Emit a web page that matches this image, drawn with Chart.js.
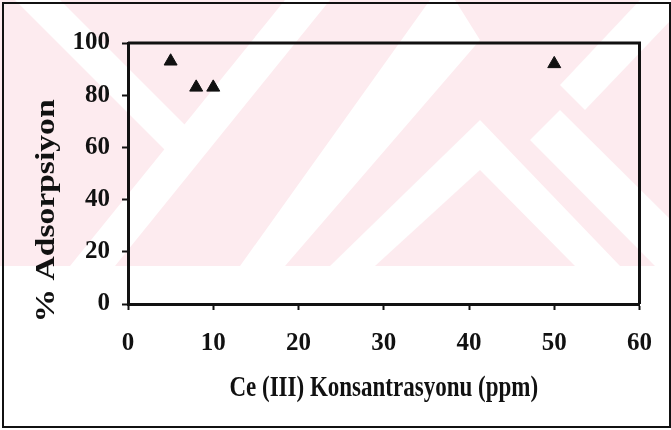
<!DOCTYPE html>
<html>
<head>
<meta charset="utf-8">
<script src="https://cdn.jsdelivr.net/npm/chart.js@4/dist/chart.umd.min.js"></script>
<style>
  html, body { margin: 0; padding: 0; background: #fff; }
  #wrap { position: relative; width: 671px; height: 430px; overflow: hidden; }
  #mark { position: absolute; left: 0; top: 0; }
  #frame { position: absolute; left: 2px; top: 2px; width: 665px; height: 422px; border: 2px solid #111; }
  #box { position: absolute; left: 0; top: 0; width: 671px; height: 430px; }
</style>
</head>
<body>
<div id="wrap">
  <!-- faint watermark behind the scanned chart -->
  <svg id="mark" width="671" height="266">
    <rect x="0" y="0" width="671" height="266" fill="#fdebef"/>
    <g fill="#fff">
      <polygon points="15,0 60,0 200,140 180,165"/>
      <polygon points="70,266 115,266 330,0 285,0"/>
      <polygon points="240,266 285,266 480,40 455,0 430,0"/>
      <polygon points="330,266 375,266 480,170 480,120"/>
      <polygon points="480,120 480,170 575,266 620,266"/>
      <polygon points="530,140 560,110 671,220 671,266 655,266"/>
      <polygon points="560,85 585,110 671,20 671,0 640,0"/>
    </g>
  </svg>
  <div id="frame"></div>
  <div id="box"><canvas id="adsChart"></canvas></div>
</div>
<script>
// values
const concentrations = [5, 8, 10, 50];       // Ce (III), ppm
const adsorption = [93, 83, 83, 92];          // % adsorpsiyon
const xTicks = [0, 10, 20, 30, 40, 50, 60];
const yTicks = [0, 20, 40, 60, 80, 100];

const xTitle = 'Ce (III) Konsantrasyonu (ppm)';
const yTitle = '% Adsorpsiyon';

const serif = "'Liberation Serif', 'Times New Roman', serif";

// top/right plot frame and axis titles (scan is a bit stretched vertically)
const framePlugin = {
    id: 'frame',
    afterDraw: function (chart) {
        var ctx = chart.ctx;
        var a = chart.chartArea;
        ctx.save();
        ctx.strokeStyle = '#111';
        ctx.lineWidth = 3;
        ctx.beginPath();
        ctx.moveTo(a.left, a.top);
        ctx.lineTo(a.right, a.top);
        ctx.lineTo(a.right, a.bottom);
        ctx.stroke();

        ctx.fillStyle = '#111';
        ctx.textAlign = 'center';
        ctx.textBaseline = 'middle';

        ctx.save();
        ctx.translate((a.left + a.right) / 2, 389);
        ctx.scale(1, 1.25);
        ctx.font = 'bold 23px ' + serif;
        ctx.fillText(xTitle, 0, 0);
        ctx.restore();

        ctx.translate(47, 211);
        ctx.rotate(-Math.PI / 2);
        ctx.scale(1.2, 1);
        ctx.font = 'bold 28px ' + serif;
        ctx.fillText(yTitle, 0, 0);
        ctx.restore();
    }
};

var ctx = document.getElementById('adsChart');
var adsChart = new Chart(ctx, {
    type: 'scatter',
    data: {
        datasets: [
            {
                data: concentrations.map(function (c, i) { return {x: c, y: adsorption[i]}; }),
                pointStyle: 'triangle',
                pointRadius: 7.5,
                pointHoverRadius: 7.5,
                backgroundColor: '#111',
                borderColor: '#111',
                borderWidth: 1
            }
        ]
    },
    options: {
        responsive: true,
        maintainAspectRatio: false,
        animation: false,
        events: [],
        layout: {
            padding: {top: 43, right: 28, left: 0, bottom: 0}
        },
        plugins: {
            legend: {display: false},
            tooltip: {enabled: false}
        },
        scales: {
            x: {
                type: 'linear',
                min: 0,
                max: 60,
                afterBuildTicks: function (scale) {
                    scale.ticks = xTicks.map(function (v) { return {value: v}; });
                },
                afterFit: function (scale) { scale.height = 126; },
                ticks: {
                    color: '#111',
                    padding: 19,
                    font: {family: serif, size: 25, weight: 'bold'}
                },
                grid: {
                    drawOnChartArea: false,
                    drawTicks: true,
                    tickLength: 6,
                    tickWidth: 2,
                    tickColor: '#111'
                },
                border: {color: '#111', width: 3}
            },
            y: {
                type: 'linear',
                min: 0,
                max: 100,
                afterBuildTicks: function (scale) {
                    scale.ticks = yTicks.map(function (v) { return {value: v}; });
                },
                afterFit: function (scale) { scale.width = 128; },
                ticks: {
                    color: '#111',
                    padding: 12,
                    font: {family: serif, size: 25, weight: 'bold'}
                },
                grid: {
                    drawOnChartArea: false,
                    drawTicks: true,
                    tickLength: 6,
                    tickWidth: 2,
                    tickColor: '#111'
                },
                border: {color: '#111', width: 3}
            }
        }
    },
    plugins: [framePlugin]
});
</script>
</body>
</html>
